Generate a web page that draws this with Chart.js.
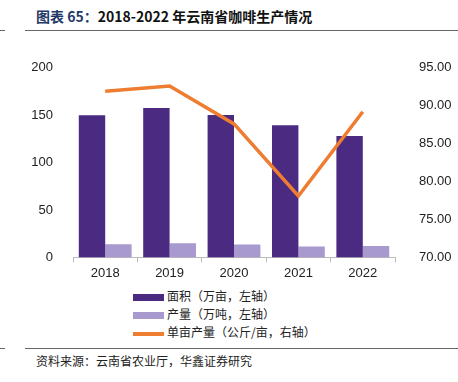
<!DOCTYPE html>
<html>
<head>
<meta charset="utf-8">
<script src="https://cdn.jsdelivr.net/npm/chart.js@4"></script>
<style>
  body { margin: 0; width: 458px; height: 382px; background: #fff; position: relative; overflow: hidden; font-family: "Noto Sans CJK SC", sans-serif; }
  .title { position: absolute; left: 36px; top: 6px; font-size: 14px; font-weight: bold; color: #111; white-space: nowrap; }
  .title .no { color: #1f3a68; }
  .rule { position: absolute; height: 1px; background: #666; }
  .source { position: absolute; left: 36px; top: 352px; font-size: 12px; color: #222; white-space: nowrap; }
  .chart { position: absolute; left: 0; top: 44px; width: 458px; height: 240px; }
  .legend { position: absolute; left: 133px; top: 287px; font-size: 12px; color: #222; }
  .legend div { height: 18px; line-height: 18px; white-space: nowrap; }
  .legend span.box { display: inline-block; width: 31px; height: 6px; margin-right: 3px; vertical-align: middle; }
</style>
</head>
<body>
<div class="title"><span class="no">图表 65：</span>2018-2022 年云南省咖啡生产情况</div>
<div class="rule" style="left:0;top:30px;width:5px;"></div>
<div class="rule" style="left:25px;top:30px;width:433px;"></div>
<div class="chart"><canvas id="myChart"></canvas></div>
<div class="legend" id="legend"></div>
<div class="rule" style="left:0;top:348px;width:5px;"></div>
<div class="rule" style="left:25px;top:348px;width:433px;"></div>
<div class="source">资料来源：云南省农业厅，华鑫证券研究</div>
<script>
const years = ["2018", "2019", "2020", "2021", "2022"];
const area = [150, 157.6, 150.2, 139.5, 128];
const output = [14, 15, 13.5, 11.5, 12];
const yieldPerMu = [91.9, 92.6, 87.6, 78.1, 89.2];
const seriesNames = ["面积（万亩，左轴）", "产量（万吨，左轴）", "单亩产量（公斤/亩，右轴）"];
const seriesColors = ["#4b2a82", "#a899cf", "#ee7d31"];

const legend = document.getElementById("legend");
seriesNames.forEach((name, i) => {
  const row = document.createElement("div");
  const h = i == 2 ? 4 : 7;
  row.innerHTML = `<span class="box" style="background:${seriesColors[i]};height:${h}px"></span>${name}`;
  legend.appendChild(row);
});

const tickFont = { family: "Liberation Sans, Arial", size: 13 };
const data = {
  labels: years,
  datasets: [
    {
      type: "line",
      label: seriesNames[2],
      data: yieldPerMu,
      borderColor: seriesColors[2],
      backgroundColor: seriesColors[2],
      borderWidth: 3.5,
      pointRadius: 0,
      tension: 0,
      yAxisID: "y1",
    },
    {
      type: "bar",
      label: seriesNames[0],
      data: area,
      backgroundColor: seriesColors[0],
      yAxisID: "y",
      categoryPercentage: 0.82,
      barPercentage: 1,
    },
    {
      type: "bar",
      label: seriesNames[1],
      data: output,
      backgroundColor: seriesColors[1],
      yAxisID: "y",
      categoryPercentage: 0.82,
      barPercentage: 1,
    },
  ],
};
const config = {
  data,
  options: {
    responsive: true,
    maintainAspectRatio: false,
    animation: false,
    layout: { padding: { top: 16, right: 2, left: 30, bottom: 0 } },
    plugins: { legend: { display: false }, tooltip: { enabled: false } },
    scales: {
      x: {
        grid: { display: true, drawOnChartArea: false, offset: true, tickLength: 5, color: "#bbb" },
        border: { color: "#bbb" },
        ticks: { font: tickFont, color: "#222", padding: 3 },
      },
      y: {
        position: "left",
        min: 0,
        max: 200,
        grid: { display: false },
        border: { display: false },
        afterFit: (s) => { s.width = 43; },
        ticks: { stepSize: 50, font: tickFont, color: "#222", padding: 12 },
      },
      y1: {
        position: "right",
        min: 70,
        max: 95,
        grid: { display: false },
        border: { display: false },
        afterFit: (s) => { s.width = 61; },
        ticks: {
          stepSize: 5,
          font: tickFont,
          color: "#222",
          padding: 16,
          callback: (v) => v.toFixed(2),
        },
      },
    },
  },
};
new Chart(document.getElementById("myChart"), config);
</script>
</body>
</html>
